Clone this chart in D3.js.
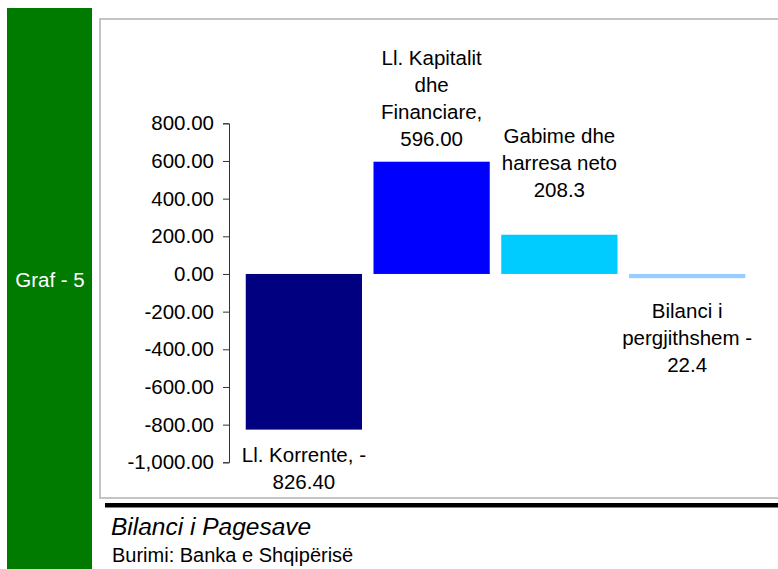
<!DOCTYPE html>
<html>
<head>
<meta charset="utf-8">
<script src="https://cdn.jsdelivr.net/npm/d3@7"></script>
<style>
  body { margin: 0; background: #fff; }
  svg { display: block; font-family: "Liberation Sans", Arial, sans-serif; }
</style>
</head>
<body>
<svg id="chart" width="778" height="569"></svg>
<script>
// data
var categories = ["Ll. Korrente", "Ll. Kapitalit dhe Financiare", "Gabime dhe harresa neto", "Bilanci i pergjithshem"];
var values = [-826.40, 596.00, 208.3, -22.4];
var barColors = ["#000080", "#0000ff", "#00ccff", "#99ccff"];
var labelLines = [
  ["Ll. Korrente, -", "826.40"],
  ["Ll. Kapitalit", "dhe", "Financiare,", "596.00"],
  ["Gabime dhe", "harresa neto", "208.3"],
  ["Bilanci i", "pergjithshem -", "22.4"]
];
var tickValues = [800, 600, 400, 200, 0, -200, -400, -600, -800, -1000];

// label offset from bar end (px), first/last baseline
var labelOffset = [32, -16, -38, 40];

var svg = d3.select("#chart");

// side green strip
svg.append("rect").attr("x", 7).attr("y", 8).attr("width", 85).attr("height", 561).attr("fill", "#017a00");
svg.append("text").attr("x", 50).attr("y", 287).attr("text-anchor", "middle")
  .attr("fill", "#fff").attr("font-size", "20.5px").text("Graf - 5");

// chart frame
svg.append("rect").attr("x", 100).attr("y", 19).attr("width", 700).attr("height", 479)
  .attr("fill", "#fff").attr("stroke", "#c4c4c4").attr("stroke-width", 2);

// scales
var y = d3.scaleLinear().domain([-1000, 800]).range([462.3, 123.3]);
var x = d3.scaleBand().domain(categories).range([240, 751]).paddingInner(0.09).paddingOuter(0.045);

// axis
var axis = d3.axisLeft(y).tickValues(tickValues).tickSize(6).tickPadding(9)
  .tickFormat(d3.format(",.2f"));
var gAxis = svg.append("g").attr("transform", "translate(229,0)").call(axis);
gAxis.select(".domain").attr("stroke", "#333");
gAxis.selectAll(".tick line").attr("stroke", "#333");
gAxis.selectAll(".tick text").attr("font-size", "20.5px").attr("fill", "#000")
  .attr("font-family", "Liberation Sans, Arial, sans-serif")
  .text(function(d) { return d3.format(",.2f")(d).replace("−", "-"); });

// bars
svg.selectAll("rect.bar")
  .data(values)
  .enter()
  .append("rect")
  .attr("class", "bar")
  .attr("x", function(d, i) { return x(categories[i]); })
  .attr("y", function(d) { return y(Math.max(0, d)); })
  .attr("width", x.bandwidth())
  .attr("height", function(d) { return Math.abs(y(d) - y(0)); })
  .attr("fill", function(d, i) { return barColors[i]; });

// data labels
var lineH = 27;
values.forEach(function(v, i) {
  var lines = labelLines[i];
  var cx = x(categories[i]) + x.bandwidth() / 2;
  var start;
  if (v < 0) start = y(v) + labelOffset[i];
  else start = y(v) + labelOffset[i] - (lines.length - 1) * lineH;
  var t = svg.append("text").attr("text-anchor", "middle").attr("font-size", "20.5px").attr("fill", "#000");
  lines.forEach(function(s, j) {
    t.append("tspan").attr("x", cx).attr("y", start + j * lineH).text(s);
  });
});

// footer
svg.append("rect").attr("x", 105).attr("y", 503).attr("width", 673).attr("height", 4.5).attr("fill", "#000");
svg.append("text").attr("x", 111).attr("y", 535).attr("font-size", "24.5px").attr("font-style", "italic")
  .attr("fill", "#000").text("Bilanci i Pagesave");
svg.append("text").attr("x", 112).attr("y", 562).attr("font-size", "20px")
  .attr("fill", "#000").text("Burimi: Banka e Shqipërisë");
</script>
</body>
</html>
